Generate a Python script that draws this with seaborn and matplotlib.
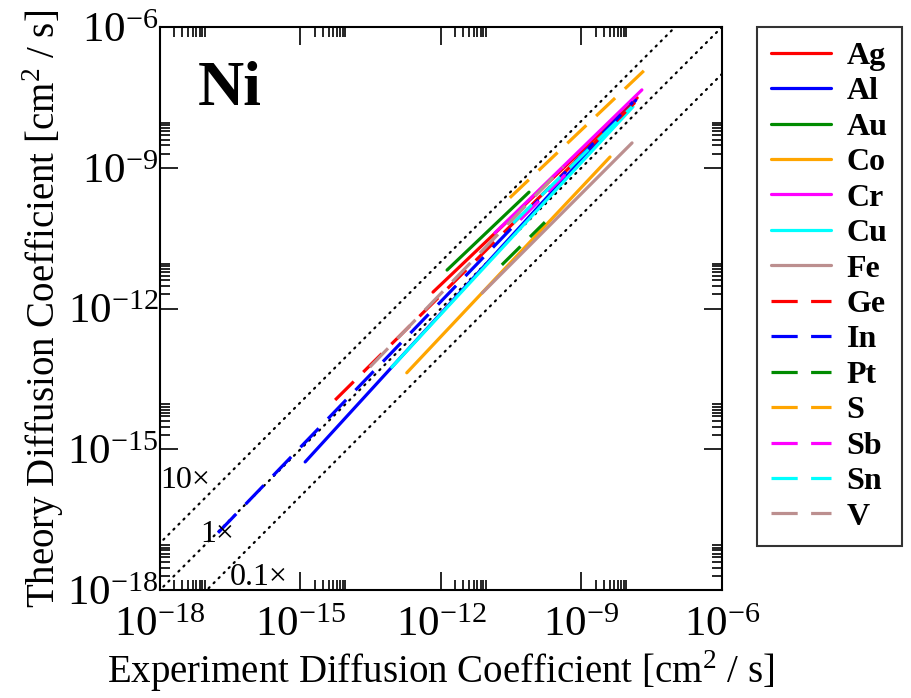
import numpy as np
import pandas as pd
import matplotlib
matplotlib.use('Agg')
import matplotlib.pyplot as plt
import seaborn as sns
from matplotlib.ticker import FixedLocator, FuncFormatter, NullFormatter
from matplotlib.lines import Line2D

# solutes diffusing in Ni; endpoints given as log10 of D (low T -> high T)
elements = ['Ag', 'Al', 'Au', 'Co', 'Cr', 'Cu', 'Fe', 'Ge', 'In', 'Pt', 'S', 'Sb', 'Sn', 'V']
colors = ['#ff0000', '#0000ff', '#008b00', '#ffa500', '#ff00ff', '#00ffff', '#bc8f8f'] * 2
dashed = [False] * 7 + [True] * 7

exp_lo = [-12.17, -14.90, -11.87, -12.73, -10.85, -13.05, -11.12, -14.26, -16.76, -10.70, -10.53, -10.31, -10.46, -13.52]
exp_hi = [-7.81, -7.84, -10.12, -8.39, -7.71, -7.90, -7.92, -7.81, -7.90, -9.78, -7.58, -9.35, -7.92, -9.39]
th_lo = [-11.65, -15.27, -11.18, -13.37, -10.39, -13.25, -11.67, -13.95, -16.78, -11.07, -9.64, -10.11, -10.18, -13.25]
th_hi = [-7.51, -7.56, -9.52, -8.77, -7.34, -7.70, -8.47, -7.56, -7.60, -10.16, -6.85, -9.15, -7.70, -8.98]

ratios = [10, 1, 0.1]
ratio_labels = ['10\u00d7', '1\u00d7', '0.1\u00d7']

rows = []
for i, el in enumerate(elements):
    rows.append({'element': el, 'exp': 10 ** exp_lo[i], 'theory': 10 ** th_lo[i]})
    rows.append({'element': el, 'exp': 10 ** exp_hi[i], 'theory': 10 ** th_hi[i]})
df = pd.DataFrame(rows)

sns.set_theme(style='white')
plt.rcParams['font.family'] = ['Liberation Serif', 'DejaVu Serif']
plt.rcParams['mathtext.fontset'] = 'custom'
plt.rcParams['mathtext.rm'] = 'Liberation Serif'
for k in ('text.color', 'axes.labelcolor', 'xtick.color', 'ytick.color'):
    plt.rcParams[k] = 'black'

fig = plt.figure(figsize=(9.11, 6.98), dpi=100)
ax = fig.add_axes([0.1756, 0.1547, 0.6169, 0.8066])
ax.set_xscale('log')
ax.set_yscale('log')

# reference lines
ref = np.array([1e-19, 1e-5])
for r in ratios:
    ax.plot(ref, ref * r, color='black', lw=1.6, linestyle=(0, (0.6, 2.6)),
            dash_capstyle='round', zorder=1)

palette = dict(zip(elements, colors))
dash_map = {el: ((8.2, 4.2) if d else '') for el, d in zip(elements, dashed)}
sns.lineplot(data=df, x='exp', y='theory', hue='element', style='element',
             palette=palette, dashes=dash_map, estimator=None, sort=False,
             lw=2.3, legend=False, ax=ax, zorder=2)

ax.set_xlim(1e-18, 1e-6)
ax.set_ylim(1e-18, 1e-6)

majors = [10.0 ** k for k in (-18, -15, -12, -9, -6)]
minors = [m * 10.0 ** k for k in (-18, -15, -12, -9) for m in range(2, 10)]
for axis in (ax.xaxis, ax.yaxis):
    axis.set_major_locator(FixedLocator(majors))
    axis.set_minor_locator(FixedLocator(minors))
    axis.set_minor_formatter(NullFormatter())
    axis.set_major_formatter(FuncFormatter(
        lambda v, p: r'$\mathregular{10^{%d}}$' % int(round(np.log10(v)))))
ax.tick_params(which='both', direction='in', top=True, right=True, bottom=True, left=True,
               labelsize=31, color='black', width=1.2)
ax.tick_params(which='major', length=13)
ax.tick_params(axis='x', which='major', pad=12)
ax.tick_params(axis='y', which='major', pad=1)
ax.tick_params(which='minor', length=7)
for s in ax.spines.values():
    s.set_color('black')
    s.set_linewidth(1.5)

ax.set_xlabel(r'Experiment Diffusion Coefficient [cm$^{2}$ / s]', fontsize=28, labelpad=2)
ax.set_ylabel(r'Theory Diffusion Coefficient [cm$^{2}$ / s]', fontsize=28, labelpad=1)

ax.text(0.067, 0.94, 'Ni', transform=ax.transAxes, fontsize=46, fontweight='bold',
        va='top', ha='left')
ax.text(10 ** -18, 10 ** -15.83, ratio_labels[0], fontsize=23, ha='left', va='baseline')
ax.text(10 ** -17.15, 10 ** -16.98, ratio_labels[1], fontsize=23, ha='left', va='baseline')
ax.text(10 ** -16.5, 10 ** -17.89, ratio_labels[2], fontsize=23, ha='left', va='baseline')

handles = [Line2D([], [], color=c, lw=2.3, linestyle=(0, (8.2, 4.2)) if d else '-')
           for c, d in zip(colors, dashed)]
leg = fig.legend(handles, elements, loc='upper left', bbox_to_anchor=(0.831, 0.961),
                 prop={'weight': 'bold', 'size': 23}, frameon=True, fancybox=False,
                 edgecolor='black', handlelength=1.85, labelspacing=0.19,
                 borderpad=0.45, handletextpad=0.5, borderaxespad=0)
leg.get_frame().set_linewidth(1.5)

fig.savefig('out.png', dpi=100)
